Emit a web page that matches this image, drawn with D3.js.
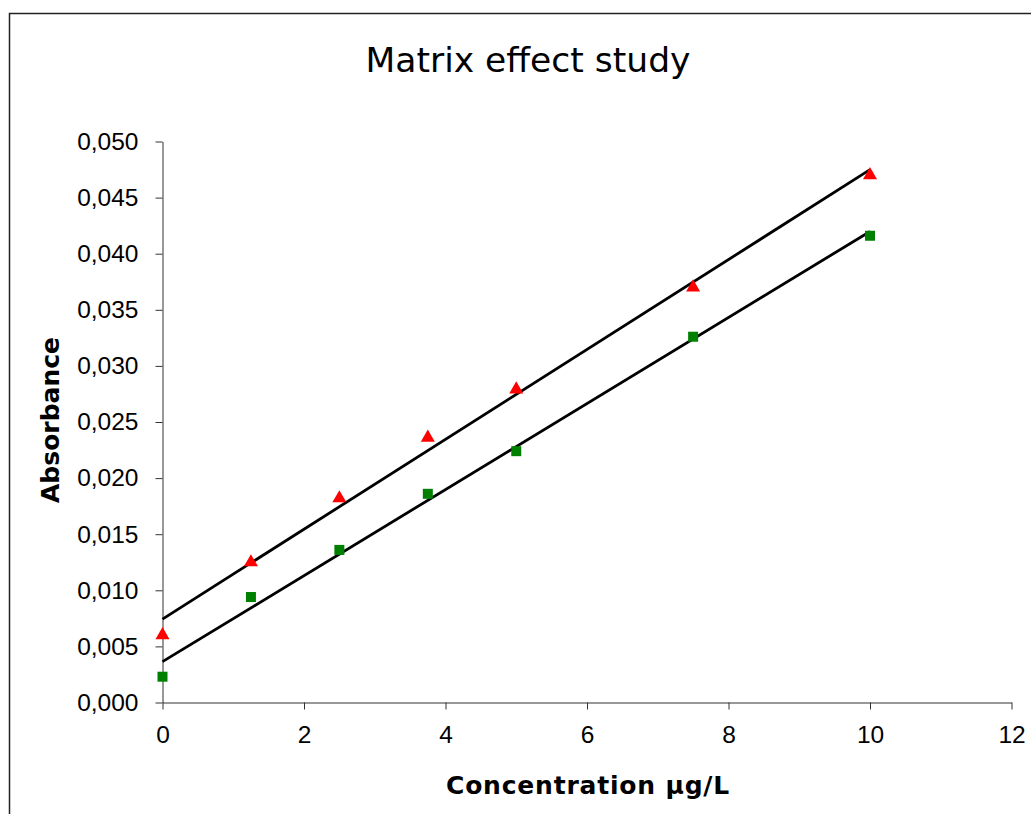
<!DOCTYPE html>
<html><head><meta charset="utf-8">
<script src="https://cdn.jsdelivr.net/npm/d3@7"></script>
<style>body{margin:0;background:#fff}svg{display:block}</style>
</head><body>
<script>
const concentrations = [0, 1.25, 2.5, 3.75, 5, 7.5, 10];
const seriesRed = [0.0060, 0.0125, 0.0182, 0.0236, 0.0279, 0.0370, 0.0470];
const seriesGreen = [0.0023, 0.0094, 0.0136, 0.0186, 0.0224, 0.0326, 0.0416];
const xTicks = [0, 2, 4, 6, 8, 10, 12];
const yTicks = [0, 0.005, 0.01, 0.015, 0.02, 0.025, 0.03, 0.035, 0.04, 0.045, 0.05];

const W = 1031, H = 814;
const svg = d3.select("body").append("svg").attr("width", W).attr("height", H);

svg.append("rect").attr("x", 9.5).attr("y", 13.5).attr("width", 1100).attr("height", 900)
  .attr("fill", "none").attr("stroke", "#222").attr("stroke-width", 1.5);

const x = d3.scaleLinear().domain([0, 12]).range([162.5, 1011.5]);
const y = d3.scaleLinear().domain([0, 0.05]).range([702.5, 141.5]);

const fmt = d => d3.format(".3f")(d).replace(".", ",");

const gx = svg.append("g").attr("transform", "translate(0,702.5)")
  .call(d3.axisBottom(x).tickValues(xTicks).tickSize(7).tickPadding(16).tickSizeOuter(0));
const gy = svg.append("g").attr("transform", "translate(162.5,0)")
  .call(d3.axisLeft(y).tickValues(yTicks).tickFormat(fmt).tickSize(7).tickPadding(17).tickSizeOuter(0));
[gx, gy].forEach(g => {
  g.selectAll("path,line").attr("stroke", "#333");
  g.selectAll("text").attr("font-family", "Liberation Sans, Arial, sans-serif").attr("font-size", 24.5).attr("fill", "#000");
});
gx.selectAll("text").attr("dy", "0.71em");

function regression(xs, ys) {
  const n = xs.length, mx = d3.mean(xs), my = d3.mean(ys);
  let sxy = 0, sxx = 0;
  for (let i = 0; i < n; i++) { sxy += (xs[i]-mx)*(ys[i]-my); sxx += (xs[i]-mx)**2; }
  const b = sxy / sxx; return { a: my - b*mx, b };
}
const line = d3.line().x(d => x(d[0])).y(d => y(d[1]));
[seriesRed, seriesGreen].forEach(s => {
  const r = regression(concentrations, s);
  const ends = [0, 10].map(v => [v, r.a + r.b * v]);
  svg.append("path").attr("d", line(ends)).attr("stroke", "#000").attr("stroke-width", 2.8).attr("fill", "none");
});

const tri = d3.symbol().type(d3.symbolTriangle).size(85);
svg.append("g").selectAll("path").data(concentrations).join("path")
  .attr("d", tri).attr("fill", "#ff0000")
  .attr("transform", (d, i) => `translate(${x(d)},${y(seriesRed[i])})`);
svg.append("g").selectAll("rect").data(concentrations).join("rect")
  .attr("x", d => x(d) - 5).attr("y", (d, i) => y(seriesGreen[i]) - 5)
  .attr("width", 10).attr("height", 10).attr("fill", "#008000");

svg.append("text").attr("x", 528).attr("y", 72).attr("text-anchor", "middle")
  .attr("font-family", "DejaVu Sans, Verdana, sans-serif").attr("font-size", 34.5).text("Matrix effect study");
svg.append("text").attr("x", 588).attr("y", 794).attr("text-anchor", "middle")
  .attr("font-family", "DejaVu Sans, Verdana, sans-serif").attr("font-weight", "bold").attr("font-size", 25)
  .attr("letter-spacing", 0.8).text("Concentration µg/L");
svg.append("text").attr("transform", "translate(59,420) rotate(-90)").attr("text-anchor", "middle")
  .attr("font-family", "DejaVu Sans, Verdana, sans-serif").attr("font-weight", "bold").attr("font-size", 25)
  .text("Absorbance");
</script>
</body></html>
